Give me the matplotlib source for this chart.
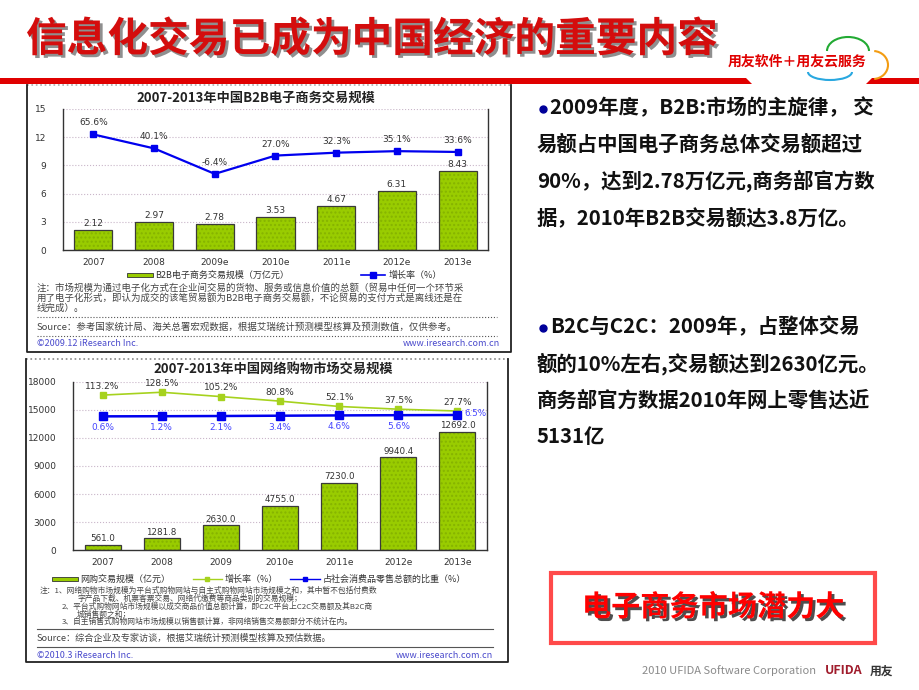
import numpy as np
import matplotlib
matplotlib.use('Agg')
import matplotlib.pyplot as plt
import matplotlib.patheffects as pe
from matplotlib.patches import Rectangle, Polygon, Arc

plt.rcParams['font.family'] = ['Noto Sans CJK SC', 'DejaVu Sans']

# chart 1 : B2B
b2b_years = ['2007', '2008', '2009e', '2010e', '2011e', '2012e', '2013e']
b2b_scale = [2.12, 2.97, 2.78, 3.53, 4.67, 6.31, 8.43]
b2b_growth = [65.6, 40.1, -6.4, 27.0, 32.3, 35.1, 33.6]

# chart 2 : online shopping
shop_years = ['2007', '2008', '2009', '2010e', '2011e', '2012e', '2013e']
shop_scale = [561.0, 1281.8, 2630.0, 4755.0, 7230.0, 9940.4, 12692.0]
shop_growth = [113.2, 128.5, 105.2, 80.8, 52.1, 37.5, 27.7]
shop_share = [0.6, 1.2, 2.1, 3.4, 4.6, 5.6, 6.5]

W, H = 920, 690
GREEN = '#99cc00'
LGREEN = '#a6d21e'
BLUE = '#0000ee'
DARK = '#333333'
NUM = 'DejaVu Sans'   # latin font for the small numbers in the charts

def rect(x0, y0, x1, y1):
  # pixel box (top-left origin) -> figure fraction
  return [x0 / W, 1 - y1 / H, (x1 - x0) / W, (y1 - y0) / H]

fig = plt.figure(figsize=(9.2, 6.9), dpi=100)

# overlay in pixel coords for the slide decorations
bg = fig.add_axes([0, 0, 1, 1], zorder=0)
bg.set_xlim(0, W)
bg.set_ylim(H, 0)
bg.axis('off')

"""
slide header
"""
bg.text(26, 40, '信息化交易已成为中国经济的重要内容', fontsize=29.3, fontweight='bold',
        color='#d40d0d', va='center', ha='left',
        path_effects=[pe.SimplePatchShadow(offset=(2, -2), shadow_rgbFace='#444444', alpha=0.6), pe.Normal()])
bg.add_patch(Polygon([(0, 78), (746, 78), (752, 84), (0, 84)], closed=True, color='#e00000', lw=0))
bg.add_patch(Polygon([(872, 78), (920, 78), (920, 84), (866, 84)], closed=True, color='#e00000', lw=0))
bg.text(728, 62, '用友软件＋用友云服务', fontsize=10, fontweight='bold', color='#e00000', va='center')
bg.add_patch(Arc((848, 51), 42, 28, theta1=180, theta2=360, color='#22aa33', lw=1.5))
bg.add_patch(Arc((873, 65), 30, 28, theta1=-85, theta2=85, color='#f39c12', lw=1.5))
bg.add_patch(Arc((830, 72), 44, 16, theta1=0, theta2=180, color='#29a8e0', lw=1.5))

"""
frames around the two embedded charts
"""
bg.plot([27, 511], [85, 85], color='#aaaaaa', lw=1.2, ls=':')
bg.plot([27, 27, 511, 511], [85, 352, 352, 85], color='#222222', lw=1.3)
bg.plot([26, 508], [359, 359], color='#888888', lw=1.2, ls=':')
bg.plot([26, 26, 508, 508], [359, 662, 662, 359], color='#222222', lw=1.3)

def bar_layer(ax, x, vals, width):
  ax.bar(x, vals, width=width, color=GREEN, edgecolor='#86b300', hatch='....', lw=0, zorder=2)
  ax.bar(x, vals, width=width, fill=False, edgecolor='#3a3a3a', lw=0.9, zorder=3)

def style_axes(ax, ticks):
  ax.set_facecolor('none')
  ax.set_yticks(ticks)
  ax.tick_params(axis='both', length=0, labelsize=6.5, labelcolor=DARK)
  ax.tick_params(axis='y', pad=12)
  ax.tick_params(axis='x', pad=6)
  for lab in ax.get_xticklabels() + ax.get_yticklabels():
    lab.set_fontfamily(NUM)
  for s in ['left', 'bottom', 'right']:
    ax.spines[s].set_color('#333333')
    ax.spines[s].set_linewidth(1.0)
  ax.spines['top'].set_visible(False)
  for t in ticks[1:]:
    ax.axhline(t, color='#c9b6c9', lw=0.8, ls=':', zorder=1)

"""
chart 1
"""
bg.text(256, 98, '2007-2013年中国B2B电子商务交易规模', fontsize=9.5, fontweight='bold',
        color='#222222', ha='center', va='center')
ax1 = fig.add_axes(rect(63, 109, 488, 250), zorder=2)
x = np.arange(len(b2b_years))
bar_layer(ax1, x, b2b_scale, 0.63)
ax1.set_xlim(-0.5, 6.5)
ax1.set_ylim(0, 15)
ax1.set_xticks(x)
ax1.set_xticklabels(b2b_years)
style_axes(ax1, [0, 3, 6, 9, 12, 15])
for i, v in enumerate(b2b_scale):
  ax1.annotate('%.2f' % v, (i, v), xytext=(0, 1.5), textcoords='offset points',
               ha='center', va='bottom', fontsize=6.5, color=DARK, family=NUM)

ax1b = ax1.twinx()
ax1b.set_ylim(-145.3, 112.0)
ax1b.axis('off')
ax1b.plot(x, b2b_growth, color=BLUE, lw=1.6, marker='s', ms=5, zorder=4)
for i, v in enumerate(b2b_growth):
  ax1b.annotate('%.1f%%' % v, (i, v), xytext=(0, 5), textcoords='offset points',
                ha='center', va='bottom', fontsize=6.5, color=DARK, family=NUM)

# legend 1
bg.add_patch(Rectangle((127, 273), 26, 4, facecolor=GREEN, edgecolor='#333333', lw=0.6))
bg.text(155, 275, 'B2B电子商务交易规模（万亿元）', fontsize=6.5, color=DARK, va='center')
bg.plot([361, 385], [275, 275], color=BLUE, lw=1.2)
bg.plot([373], [275], marker='s', ms=4, color=BLUE)
bg.text(389, 275, '增长率（%）', fontsize=6.5, color=DARK, va='center')

notes1 = ['注：市场规模为通过电子化方式在企业间交易的货物、服务或信息价值的总额（贸易中任何一个环节采',
          '用了电子化形式，即认为成交的该笔贸易额为B2B电子商务交易额，不论贸易的支付方式是离线还是在',
          '线完成）。']
for k, line in enumerate(notes1):
  bg.text(37, 288 + k * 10, line, fontsize=6.8, color='#444444', va='center')
bg.plot([37, 497], [317, 317], color='#555555', lw=0.8, ls=':')
bg.text(37, 327, 'Source：参考国家统计局、海关总署宏观数据，根据艾瑞统计预测模型核算及预测数值，仅供参考。',
        fontsize=6.8, color='#444444', va='center')
bg.plot([37, 497], [336, 336], color='#555555', lw=0.8, ls=':')
bg.text(37, 344, '©2009.12 iResearch Inc.', fontsize=6.5, color='#4a4acc', va='center')
bg.text(500, 344, 'www.iresearch.com.cn', fontsize=6.5, color='#4a4acc', va='center', ha='right')

"""
chart 2
"""
bg.text(273, 370, '2007-2013年中国网络购物市场交易规模', fontsize=9.5, fontweight='bold',
        color='#222222', ha='center', va='center')
ax2 = fig.add_axes(rect(73, 382, 487, 550), zorder=2)
x = np.arange(len(shop_years))
bar_layer(ax2, x, shop_scale, 0.61)
ax2.set_xlim(-0.5, 6.5)
ax2.set_ylim(0, 18000)
ax2.set_xticks(x)
ax2.set_xticklabels(shop_years)
style_axes(ax2, [0, 3000, 6000, 9000, 12000, 15000, 18000])
for i, v in enumerate(shop_scale):
  ax2.annotate('%.1f' % v, (i, v), xytext=(0, 1), textcoords='offset points',
               ha='center', va='bottom', fontsize=6.3, color=DARK, family=NUM)

ax2g = ax2.twinx()
ax2g.set_ylim(-719, 183.6)
ax2g.axis('off')
ax2g.plot(x, shop_growth, color=LGREEN, lw=1.2, marker='s', ms=5, zorder=4)
for i, v in enumerate(shop_growth):
  ax2g.annotate('%.1f%%' % v, (i, v), xytext=(0, 3), textcoords='offset points',
                ha='center', va='bottom', fontsize=6.5, color=DARK, family=NUM)

ax2s = ax2.twinx()
ax2s.set_ylim(-572, 147.8)
ax2s.axis('off')
ax2s.plot(x, shop_share, color=BLUE, lw=1.8, marker='s', ms=5.5, zorder=4)
for i, v in enumerate(shop_share):
  if i == len(shop_share) - 1:
    ax2s.annotate('%.1f%%' % v, (i, v), xytext=(5, 1), textcoords='offset points',
                  ha='left', va='center', fontsize=6.3, color='#4444ff', family=NUM)
  else:
    ax2s.annotate('%.1f%%' % v, (i, v), xytext=(0, -5), textcoords='offset points',
                  ha='center', va='top', fontsize=6.5, color='#4444ff', family=NUM)

# legend 2
bg.add_patch(Rectangle((52, 577), 26, 4, facecolor=GREEN, edgecolor='#333333', lw=0.6))
bg.text(80, 579, '网购交易规模（亿元）', fontsize=6.5, color=DARK, va='center')
bg.plot([193, 222], [579, 579], color=LGREEN, lw=1.0)
bg.plot([207.5], [579], marker='s', ms=3.5, color=LGREEN)
bg.text(225, 579, '增长率（%）', fontsize=6.5, color=DARK, va='center')
bg.plot([290, 320], [579, 579], color=BLUE, lw=1.0)
bg.plot([305], [579], marker='s', ms=3.5, color=BLUE)
bg.text(323, 579, '占社会消费品零售总额的比重（%）', fontsize=6.5, color=DARK, va='center')

notes2 = [(40, '注：1、网络购物市场规模为平台式购物网站与自主式购物网站市场规模之和，其中暂不包括付费数'),
          (77, '字产品下载、机票客票交易、网络代缴费等商品类别的交易规模；'),
          (62, '2、平台式购物网站市场规模以成交商品价值总额计算，即C2C平台上C2C交易额及其B2C商'),
          (77, '城销售额之和；'),
          (62, '3、自主销售式购物网站市场规模以销售额计算，非网络销售交易额部分不统计在内。')]
for k, (xx, line) in enumerate(notes2):
  bg.text(xx, 591 + k * 7.8, line, fontsize=5.6, color='#444444', va='center')
bg.plot([37, 493], [629, 629], color='#555555', lw=0.8)
bg.text(37, 638, 'Source：综合企业及专家访谈，根据艾瑞统计预测模型核算及预估数据。',
        fontsize=6.6, color='#444444', va='center')
bg.plot([37, 493], [647, 647], color='#555555', lw=0.8)
bg.text(37, 655, '©2010.3 iResearch Inc.', fontsize=6.5, color='#4a4acc', va='center')
bg.text(493, 655, 'www.iresearch.com.cn', fontsize=6.5, color='#4a4acc', va='center', ha='right')

"""
right side text
"""
para1 = ['2009年度，B2B:市场的主旋律， 交',
         '易额占中国电子商务总体交易额超过',
         '90%，达到2.78万亿元,商务部官方数',
         '据，2010年B2B交易额达3.8万亿。']
para2 = ['B2C与C2C：2009年，占整体交易',
         '额的10%左右,交易额达到2630亿元。',
         '商务部官方数据2010年网上零售达近',
         '5131亿']
for ys, para in [(108, para1), (327, para2)]:
  bg.plot([543], [ys + 1], marker='o', ms=5, color='#000099')
  for k, line in enumerate(para):
    bg.text(550 if k == 0 else 537, ys + k * 36.5, line, fontsize=14.7, fontweight='bold',
            color='#111111', va='center')

bg.add_patch(Rectangle((551, 573), 324, 70, facecolor='white', edgecolor='#ff4a4a', lw=3))
bg.text(713, 607, '电子商务市场潜力大', fontsize=21, fontweight='bold', color='#ff0000',
        ha='center', va='center',
        path_effects=[pe.SimplePatchShadow(offset=(2, -2), shadow_rgbFace='#222222', alpha=0.8), pe.Normal()])

bg.text(816, 671, '2010 UFIDA Software Corporation', fontsize=8, color='#8a8a8a', ha='right', va='center')
bg.text(825, 671, 'UFIDA', fontsize=9, fontweight='bold', color='#a01c2c', va='center')
bg.text(870, 671, '用友', fontsize=8.5, fontweight='bold', color='#333333', va='center')

fig.savefig('out.png', dpi=100)
